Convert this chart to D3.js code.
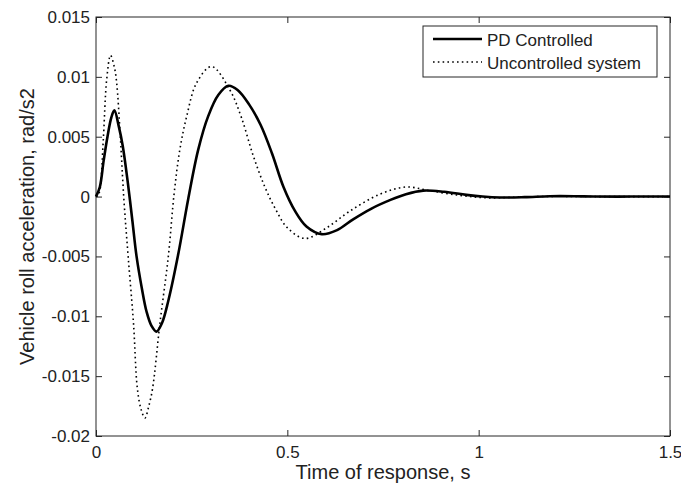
<!DOCTYPE html>
<html>
<head>
<meta charset="utf-8">
<script src="https://cdn.jsdelivr.net/npm/d3@7"></script>
<style>
  html, body { margin: 0; padding: 0; background: #fff; }
  svg { display: block; font-family: "Liberation Sans", Arial, Helvetica, sans-serif; }
</style>
</head>
<body>
<svg id="chart" width="681" height="485"></svg>
<script>
// ---- data ----
const pdTime = [0, 0.01, 0.02, 0.03, 0.04, 0.048, 0.06, 0.07, 0.083, 0.095, 0.106, 0.12, 0.132, 0.145, 0.158, 0.172, 0.189, 0.215, 0.241, 0.267, 0.293, 0.32, 0.346, 0.37, 0.40, 0.43, 0.46, 0.49, 0.52, 0.55, 0.59, 0.63, 0.672, 0.72, 0.768, 0.81, 0.855, 0.91, 0.968, 1.01, 1.056, 1.12, 1.186, 1.25, 1.3, 1.4, 1.5];
const pdValues = [0, 0.0008, 0.0030, 0.0050, 0.0066, 0.0072, 0.0058, 0.0042, 0.0012, -0.0020, -0.0050, -0.0077, -0.0096, -0.0108, -0.01128, -0.0106, -0.0087, -0.0048, -0.0002, 0.0039, 0.0067, 0.0085, 0.00925, 0.0089, 0.0077, 0.0060, 0.0036, 0.0008, -0.0012, -0.0025, -0.00314, -0.0028, -0.0019, -0.0010, -0.0003, 0.0002, 0.0005, 0.0004, 0.00014, 0.0000, -0.00008, -0.00005, 0.00003, 0.00003, 0, 0, 0];

const unTime = [0, 0.005, 0.01, 0.019, 0.028, 0.038, 0.048, 0.054, 0.063, 0.073, 0.084, 0.098, 0.108, 0.118, 0.128, 0.138, 0.148, 0.167, 0.189, 0.204, 0.219, 0.237, 0.263, 0.302, 0.35, 0.38, 0.41, 0.44, 0.47, 0.50, 0.546, 0.603, 0.664, 0.742, 0.81, 0.87, 0.95, 1.02, 1.1, 1.2, 1.3, 1.5];
const unValues = [0, 0.0001, 0.0005, 0.0047, 0.0098, 0.0118, 0.0108, 0.0095, 0.0053, -0.0003, -0.0050, -0.0106, -0.0160, -0.0178, -0.0185, -0.0175, -0.0160, -0.0106, -0.0050, 0.0002, 0.0039, 0.0067, 0.0095, 0.01086, 0.0089, 0.0066, 0.0035, 0.0009, -0.0011, -0.0026, -0.0035, -0.0026, -0.0012, 0.0002, 0.0008, 0.0005, 0.0001, -0.0001, -0.00005, 0.00002, 0, 0];

const xTicks = [0, 0.5, 1, 1.5];
const xTickLabels = ["0", "0.5", "1", "1.5"];
const yTicks = [-0.02, -0.015, -0.01, -0.005, 0, 0.005, 0.01, 0.015];
const yTickLabels = ["-0.02", "-0.015", "-0.01", "-0.005", "0", "0.005", "0.01", "0.015"];
const seriesNames = ["PD Controlled", "Uncontrolled system"];
const xTitle = "Time of response, s";
const yTitle = "Vehicle roll acceleration, rad/s2";

// ---- layout ----
const L = 96, R = 670, T = 17, B = 436;
const svg = d3.select("#chart");
const x = d3.scaleLinear().domain([0, 1.5]).range([L, R]);
const y = d3.scaleLinear().domain([-0.02, 0.015]).range([B, T]);

const axisColor = "#262626";
const textColor = "#222";
const tickLen = 6;

// axes (ticks inside, mirrored)
const gB = svg.append("g").attr("transform", `translate(0,${B})`)
  .call(d3.axisBottom(x).tickValues(xTicks).tickSizeInner(-tickLen).tickSizeOuter(0)
        .tickFormat((d, i) => xTickLabels[i]).tickPadding(10));
const gT = svg.append("g").attr("transform", `translate(0,${T})`)
  .call(d3.axisTop(x).tickValues(xTicks).tickSizeInner(-tickLen).tickSizeOuter(0).tickFormat(""));
const gL = svg.append("g").attr("transform", `translate(${L},0)`)
  .call(d3.axisLeft(y).tickValues(yTicks).tickSizeInner(-tickLen).tickSizeOuter(0)
        .tickFormat((d, i) => yTickLabels[i]).tickPadding(6));
const gR = svg.append("g").attr("transform", `translate(${R},0)`)
  .call(d3.axisRight(y).tickValues(yTicks).tickSizeInner(-tickLen).tickSizeOuter(0).tickFormat(""));

[gB, gT, gL, gR].forEach(g => {
  g.select(".domain").remove();
  g.selectAll(".tick line").attr("stroke", axisColor).attr("stroke-width", 1);
  g.selectAll("text").attr("fill", textColor).style("font-size", "17px")
    .style("font-family", "'Liberation Sans', Arial, sans-serif");
});
gB.selectAll(".tick text").attr("dy", "0.71em");

// frame
svg.append("rect").attr("x", L).attr("y", T).attr("width", R - L).attr("height", B - T)
  .attr("fill", "none").attr("stroke", axisColor).attr("stroke-width", 1);

// lines
const line = d3.line().x(d => x(d[0])).y(d => y(d[1])).curve(d3.curveCatmullRom.alpha(0.5));
const unData = unTime.map((t, i) => [t, unValues[i]]);
const pdData = pdTime.map((t, i) => [t, pdValues[i]]);

svg.append("path").datum(unData).attr("d", line)
  .attr("fill", "none").attr("stroke", "#000").attr("stroke-width", 1.6)
  .attr("stroke-dasharray", "1.6,3.2");
svg.append("path").datum(pdData).attr("d", line)
  .attr("fill", "none").attr("stroke", "#000").attr("stroke-width", 2.6)
  .attr("stroke-linejoin", "round");

// legend
const lg = svg.append("g");
lg.append("rect").attr("x", 423).attr("y", 26).attr("width", 234).attr("height", 51)
  .attr("fill", "#fff").attr("stroke", axisColor).attr("stroke-width", 1);
const legendRows = [{y: 39, dash: null, w: 2.6}, {y: 62, dash: "1.6,3.2", w: 1.6}];
legendRows.forEach((r, i) => {
  const ln = lg.append("line").attr("x1", 433).attr("x2", 482).attr("y1", r.y).attr("y2", r.y)
    .attr("stroke", "#000").attr("stroke-width", r.w);
  if (r.dash) ln.attr("stroke-dasharray", r.dash);
  lg.append("text").attr("x", 487).attr("y", r.y + 7).attr("fill", textColor)
    .style("font-size", "17px").text(seriesNames[i]);
});

// titles
svg.append("text").attr("x", (L + R) / 2).attr("y", 479).attr("text-anchor", "middle")
  .attr("fill", textColor).style("font-size", "20px").text(xTitle);
svg.append("text").attr("transform", `translate(33.5,${(T + B) / 2}) rotate(-90)`)
  .attr("text-anchor", "middle").attr("fill", textColor).style("font-size", "20px").text(yTitle);
</script>
</body>
</html>
